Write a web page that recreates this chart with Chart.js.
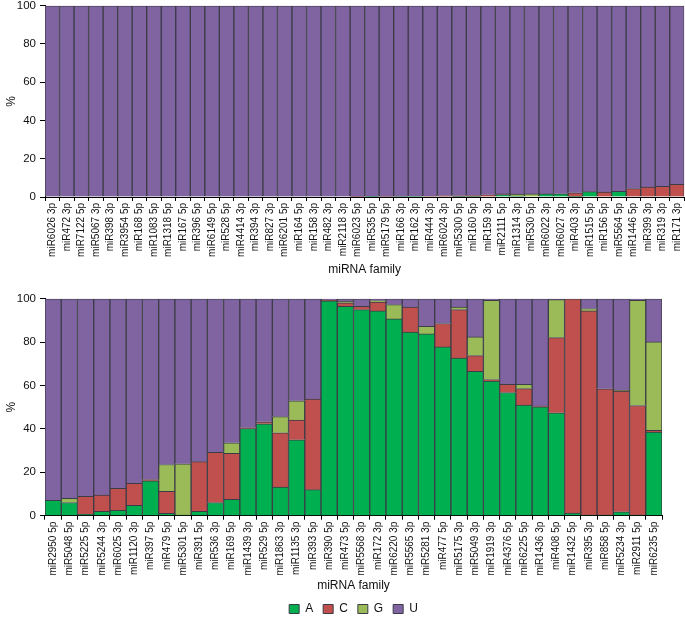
<!DOCTYPE html>
<html>
<head>
<meta charset="utf-8">
<script src="https://cdn.jsdelivr.net/npm/chart.js@4"></script>
<style>
  html, body { margin: 0; padding: 0; background: #fff; overflow: hidden; }
  canvas { position: absolute; left: 0; }
  #top { top: -4px; }
  #bottom { top: 289px; }
</style>
</head>
<body>
<canvas id="top" width="691" height="286"></canvas>
<canvas id="bottom" width="685" height="336"></canvas>
<script>
// upper panel
const topLabels = ['miR6026 3p','miR472 3p','miR7122 5p','miR5067 3p','miR398 3p','miR3954 5p','miR168 5p','miR1083 5p','miR1318 5p','miR167 5p','miR396 5p','miR6149 5p','miR528 5p','miR4414 3p','miR394 3p','miR827 3p','miR6201 5p','miR164 5p','miR158 3p','miR482 3p','miR2118 3p','miR6023 5p','miR535 5p','miR5179 5p','miR166 3p','miR162 3p','miR444 3p','miR6024 3p','miR5300 5p','miR160 5p','miR159 3p','miR2111 5p','miR1314 3p','miR530 5p','miR6022 3p','miR6027 3p','miR403 3p','miR1515 5p','miR156 5p','miR5564 5p','miR1446 5p','miR399 3p','miR319 3p','miR171 3p'];
const topA = [0,0,0,0,0,0,0,0,0,0,0,0,0,0,0,0,0,0,0,0,0,0,0.2,0,0.3,0.4,0,0,0.3,0.3,0,1.3,0.5,0,1.6,1.7,0.2,2.8,0,2.9,0,0,0,0];
const topC = [0,0,0,0,0,0,0,0,0,0,0,0,0,0,0,0,0,0,0,0,0,0.2,0,0.3,0,0,0.5,0.6,0.3,0.5,1.2,0.3,0,0,0,0,2.0,0,2.6,0,4.4,5.2,5.6,6.6];
const topG = [0,0,0,0,0,0,0,0,0,0,0,0,0,0,0,0,0,0,0,0,0,0,0,0,0,0,0,0,0,0,0,0,1.0,1.6,0,0,0,0,0,0,0,0,0,0];
const topU = [100,100,100,100,100,100,100,100,100,100,100,100,100,100,100,100,100,100,100,100,100,99.8,99.8,99.7,99.7,99.6,99.5,99.4,99.4,99.2,98.8,98.4,98.5,98.4,98.4,98.3,97.8,97.2,97.4,97.1,95.6,94.8,94.4,93.4];

// lower panel
const botLabels = ['miR2950 5p','miR5048 5p','miR5225 5p','miR5244 3p','miR6025 3p','miR1120 3p','miR397 5p','miR479 5p','miR5301 5p','miR391 5p','miR536 3p','miR169 5p','miR1439 3p','miR529 5p','miR1863 3p','miR1135 3p','miR393 5p','miR390 5p','miR473 5p','miR5568 3p','miR172 3p','miR6220 3p','miR5565 3p','miR5281 3p','miR477 5p','miR5175 3p','miR5049 3p','miR1919 3p','miR4376 5p','miR6225 5p','miR1436 3p','miR408 5p','miR1432 5p','miR395 3p','miR858 5p','miR5234 3p','miR2911 5p','miR6235 5p'];
const botA = [7.1,6.1,0.6,2.0,2.5,4.8,16.1,1.1,0.3,2.0,6.1,7.5,40.2,42.4,13.2,35.0,12.0,99.0,96.5,95.0,94.4,90.7,84.6,83.8,77.8,72.6,66.5,62.0,56.8,51.0,50.2,47.4,1.2,0.3,0.3,1.8,0.3,38.5];
const botC = [0,0,8.3,7.5,10.1,10.1,0.6,10.1,0,22.9,23.1,21.2,0.3,0.9,25.0,9.1,41.7,0.3,1.6,1.5,4.1,0,11.6,0,10.8,22.4,7.3,0.8,3.8,7.6,0.3,34.7,98.8,94.1,58.2,55.6,50.5,0.8];
const botG = [0,1.9,0,0,0,0,0,12.4,23.6,0,0,4.9,0,0,7.5,8.9,0,0,0.7,0,0.7,6.6,0,3.5,0,1.2,8.6,36.5,0,2.0,0,17.5,0,1.1,0,0.4,48.5,40.8];
const botU = [92.9,92.0,91.1,90.5,87.4,85.1,83.3,76.4,76.1,75.1,70.8,66.4,59.5,56.7,54.3,47.0,46.3,0.7,1.2,3.5,0.8,2.7,3.8,12.7,11.4,3.8,17.6,0.7,39.4,39.4,49.5,0.4,0,4.5,41.5,42.2,0.7,19.9];

const bases = ['A', 'C', 'G', 'U'];
const colors = ['#00b050', '#c0504d', '#9bbb59', '#8064a2'];
const edge = '#3c3c46';
const font = 'Liberation Sans, Arial, sans-serif';

function sets(cols) {
  return cols.map((vals, i) => ({
    label: bases[i],
    data: vals.map(v => v || null),
    backgroundColor: colors[i],
    borderColor: edge,
    borderWidth: 1,
    categoryPercentage: 1,
    barPercentage: 1
  }));
}

function scales(xHeight, titlePad) {
  return {
    x: {
      stacked: true,
      grid: { drawOnChartArea: false, tickLength: 4, color: '#000' },
      border: { color: '#000' },
      ticks: { autoSkip: false, minRotation: 90, maxRotation: 90, padding: 2, color: '#111', font: { family: font, size: 10 } },
      title: { display: true, text: 'miRNA family', color: '#111', padding: { top: 0, bottom: titlePad }, font: { family: font, size: 12 } },
      afterFit: s => { s.height = xHeight; }
    },
    y: {
      stacked: true, min: 0, max: 100,
      grid: { drawOnChartArea: false, tickLength: 5, color: '#000' },
      border: { color: '#000' },
      ticks: { stepSize: 20, padding: 4, color: '#111', font: { family: font, size: 11.5, lineHeight: 1 } },
      title: { display: true, text: '%', color: '#111', padding: 4, font: { family: font, size: 12 } },
      afterFit: s => { s.width = 45; }
    }
  };
}

new Chart(document.getElementById('top'), {
  type: 'bar',
  data: { labels: topLabels, datasets: sets([topA, topC, topG, topU]) },
  options: {
    responsive: false, animation: false,
    layout: { padding: { top: 6, right: 1, bottom: 0, left: 0 } },
    plugins: { legend: { display: false }, tooltip: { enabled: false } },
    scales: scales(85, 5)
  }
});

new Chart(document.getElementById('bottom'), {
  type: 'bar',
  data: { labels: botLabels, datasets: sets([botA, botC, botG, botU]) },
  options: {
    responsive: false, animation: false,
    layout: { padding: { top: 8.5, right: 23, bottom: 0, left: 0 } },
    plugins: {
      legend: {
        position: 'bottom', fullSize: false,
        labels: { boxWidth: 10, boxHeight: 9, padding: 10, color: '#111', font: { family: font, size: 12 } }
      },
      tooltip: { enabled: false }
    },
    scales: scales(77.3, 0)
  }
});
</script>
</body>
</html>
